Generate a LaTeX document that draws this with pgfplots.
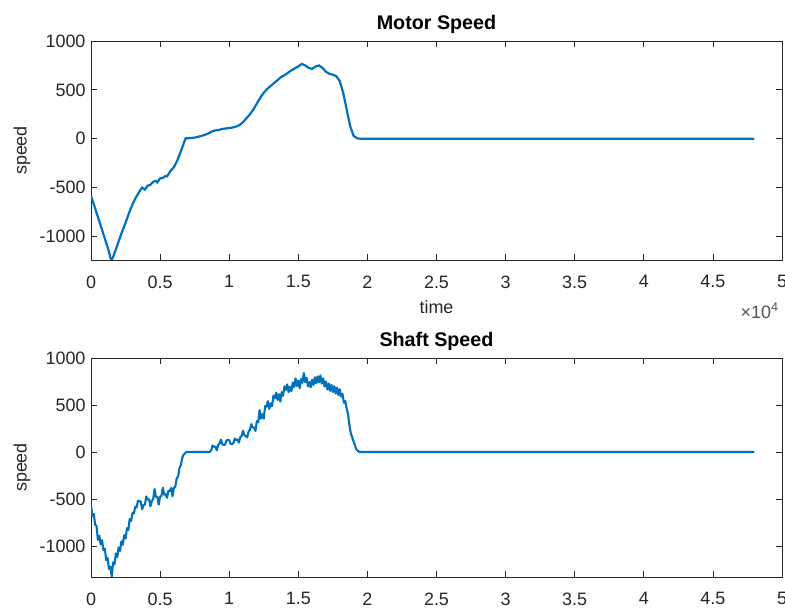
\documentclass[border=0pt]{standalone}
\usepackage{fontspec}
\setmainfont{Liberation Sans}
\usepackage{pgfplots}
\pgfplotsset{compat=1.18}
\definecolor{mlblue}{RGB}{0,114,189}
\definecolor{axgray}{RGB}{38,38,38}

\pgfplotsset{
  mlstyle/.style={
    scale only axis, width=691bp, height=219bp,
    xmin=0, xmax=50000,
    clip mode=individual,
    scaled x ticks=false,
    xtick={0,5000,...,50000},
    xticklabels={0,0.5,1,1.5,2,2.5,3,3.5,4,4.5,5},
    ytick={-1000,-500,0,500,1000},
    yticklabels={-1000,-500,0,500,1000},
    tick pos=both, tick align=inside, major tick length=6bp,
    axis line style={axgray, line width=0.8bp},
    every tick/.style={axgray, line width=0.8bp},
    font=\fontsize{18}{21}\selectfont,
    tick label style={text=axgray},
    xticklabel style={yshift=-12bp},
    yticklabel style={xshift=-2bp},
    ylabel={speed},
    ylabel style={at={(axis description cs:-0.1,0.5)}, anchor=center, rotate=0, text=axgray},
    every axis title shift=0pt,
    title style={at={(axis description cs:0.5,1.0776)}, anchor=center,
                 font=\fontsize{19.8}{22}\selectfont\bfseries},
  },
}

\begin{document}
\begin{tikzpicture}
\path[use as bounding box] (0,0) rectangle (785bp,611bp);
% ── Motor Speed ───────────────────────────────────────────
\begin{axis}[
    mlstyle,
    at={(91bp,351bp)}, anchor=south west,
    ymin=-1240, ymax=1000,
    title={Motor Speed},
    xlabel={time},
    xlabel style={at={(axis description cs:0.5,-0.2146)}, anchor=center, text=axgray},
]
\addplot[mlblue, line width=2.2bp] coordinates {
(0,-585)(250,-690)(500,-800)(750,-910)(1000,-1020)(1250,-1130)(1400,-1215)(1500,-1240)
(1600,-1210)(1750,-1150)(2000,-1050)(2250,-950)(2500,-860)(2750,-760)(3000,-670)(3250,-600)
(3500,-540)(3700,-500)(3900,-520)(4100,-480)(4300,-470)(4500,-440)(4700,-430)(4800,-445)
(5000,-405)(5200,-400)(5400,-380)(5500,-385)(5750,-330)(6000,-290)(6250,-220)(6500,-130)(6750,-30)
(6850,5)(7250,8)(7500,12)(7750,20)(8000,30)(8250,40)(8500,55)(8750,75)
(9000,85)(9250,90)(9500,100)(9750,105)(10000,110)(10250,115)(10500,125)
(10750,140)(11000,170)(11250,210)(11500,250)(11750,300)(12000,360)(12250,420)
(12500,470)(12750,510)(13000,540)(13250,570)(13500,600)(13750,630)(14000,650)
(14250,675)(14500,700)(14750,720)(15000,740)(15250,765)(15500,750)(15750,725)
(16000,715)(16250,740)(16500,750)(16750,725)(17000,685)(17250,665)(17500,655)
(17750,640)(18000,590)(18250,470)(18500,300)(18750,130)(19000,30)(19250,5)
(19500,0)(48000,0)
};
\node[anchor=base east, text=axgray!80] at (axis description cs:1.0,-0.265) {×10\textsuperscript{4}};
\end{axis}
% ── Shaft Speed ───────────────────────────────────────────
\begin{axis}[
    mlstyle,
    at={(91bp,34bp)}, anchor=south west,
    ymin=-1330, ymax=1000,
    title={Shaft Speed},
]
\addplot[mlblue, line width=2.1bp, line join=round] coordinates {
(0,-565)(100,-682)(200,-658)(300,-775)(400,-785)(500,-935)(600,-889)(700,-984)
(800,-938)(900,-1046)(1000,-1028)(1100,-1150)(1200,-1127)(1300,-1244)(1400,-1221)
(1500,-1325)(1600,-1174)(1700,-1197)(1800,-1080)(1900,-1118)(2000,-1015)(2100,-1053)
(2200,-950)(2300,-987)(2400,-884)(2500,-921)(2600,-811)(2700,-832)(2800,-714)(2900,-735)
(3000,-648)(3100,-655)(3200,-583)(3300,-590)(3400,-518)(3500,-525)(3600,-527)(3700,-609)
(3800,-567)(3900,-560)(4000,-473)(4100,-508)(4200,-503)(4300,-578)(4400,-523)(4500,-499)
(4600,-395)(4700,-477)(4800,-478)(4900,-560)(5000,-473)(5100,-467)(5200,-380)(5300,-454)
(5400,-448)(5500,-488)(5600,-413)(5700,-418)(5800,-383)(5900,-470)(6000,-380)(6100,-370)
(6200,-280)(6300,-265)(6400,-170)(6500,-140)(6600,-65)(6700,-28)(6800,-14)(6900,0)
(8600,0)(8700,20)(8800,70)(8900,56)(9000,57)(9100,18)(9200,74)(9300,90)(9400,132)
(9500,83)(9600,74)(9700,79)(9800,123)(9900,128)(10000,127)(10100,86)(10200,85)
(10300,93)(10400,141)(10500,128)(10600,134)(10700,100)(10800,155)(10900,171)
(11000,226)(11100,178)(11200,169)(11300,155)(11400,216)(11500,236)(11600,297)
(11700,259)(11800,262)(11900,224)
(12000,328)(12100,317)(12200,446)(12300,355)(12400,404)(12500,355)(12600,489)(12700,483)
(12800,541)(12900,459)(13000,517)(13100,488)(13200,600)(13300,571)(13400,632)(13500,553)
(13600,615)(13700,536)(13800,637)(13900,598)(14000,699)(14100,660)(14200,718)(14300,637)
(14400,695)(14500,647)(14600,739)(14700,691)(14800,783)(14900,701)(15000,760)(15100,678)
(15200,777)(15300,736)(15400,840)(15500,743)(15600,790)(15700,698)(15800,745)(15900,688)
(16000,770)(16100,713)(16200,795)(16300,730)(16400,805)(16500,740)(16600,815)(16700,729)
(16800,783)(16900,697)(17000,751)(17100,665)(17200,728)(17300,651)(17400,714)(17500,637)
(17600,700)(17700,622)(17800,684)(17900,606)(18000,668)(18100,590)(18200,619)(18300,523)
(18400,543)(18500,462)(18600,402)(18700,283)(18800,198)(18900,156)(19000,113)(19100,71)
(19200,28)(19300,14)(19400,0)(48000,0)
};
\end{axis}
\end{tikzpicture}
\end{document}
